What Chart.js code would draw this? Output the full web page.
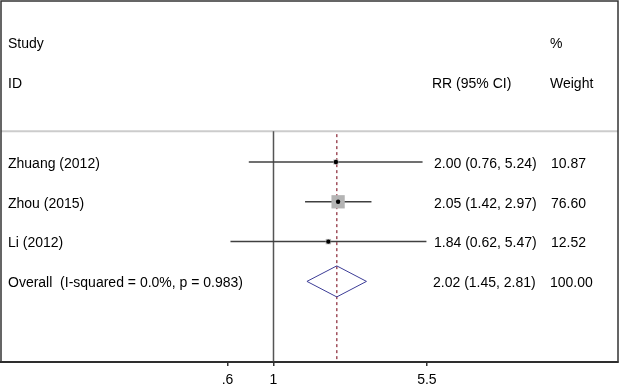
<!DOCTYPE html>
<html>
<head>
<meta charset="utf-8">
<script src="https://cdn.jsdelivr.net/npm/chart.js@4.4.0/dist/chart.umd.min.js"></script>
<style>
body { margin: 0; background: #fff; }
</style>
</head>
<body>
<canvas id="forest" width="620" height="387"></canvas>
<script>
// forest plot data
const studies = ['Zhuang (2012)', 'Zhou (2015)', 'Li (2012)'];
const rr = [2.00, 2.05, 1.84];
const lower = [0.76, 1.42, 0.62];
const upper = [5.24, 2.97, 5.47];
const weights = [10.87, 76.60, 12.52];

const overallLabel = 'Overall  (I-squared = 0.0%, p = 0.983)';
const overallRR = 2.02;
const overallLower = 1.45;
const overallUpper = 2.81;
const overallWeight = 100.00;

const xTicks = [0.6, 1, 5.5];
const xTickLabels = ['.6', '1', '5.5'];

// rows: headers at -3 / -2, studies 0..n-1, overall at n
const overallRow = studies.length;
const sepRow = -0.77;
const yMin = -4.045, yMax = 5.025;
const xMin = 0.04843, xMax = 45.96;

const FONT = '"Liberation Sans", Arial, sans-serif';

function ciText(est, lo, hi) {
    return est.toFixed(2) + ' (' + lo.toFixed(2) + ', ' + hi.toFixed(2) + ')';
}

const textPlugin = {
    id: 'forestText',
    afterDraw(chart) {
        const ctx = chart.ctx;
        const y = chart.scales.y;
        const area = chart.chartArea;
        ctx.save();
        ctx.font = '14px ' + FONT;
        ctx.fillStyle = '#000';
        ctx.textBaseline = 'middle';
        // +2px: canvas 'middle' sits a little high compared to the reference
        const put = (t, x, row) => ctx.fillText(t, x, y.getPixelForValue(row) + 2);

        put('Study', 8, -3);
        put('ID', 8, -2);
        put('RR (95% CI)', 432, -2);
        put('%', 550, -3);
        put('Weight', 550, -2);

        studies.forEach((s, i) => {
            put(s, 8, i);
            put(ciText(rr[i], lower[i], upper[i]), 434, i);
            put(weights[i].toFixed(2), 551, i);
        });
        put(overallLabel, 8, overallRow);
        put(ciText(overallRR, overallLower, overallUpper), 433, overallRow);
        put(overallWeight.toFixed(2), 550, overallRow);

        // frame round the plot
        ctx.strokeStyle = '#333';
        ctx.lineWidth = 1.5;
        ctx.strokeRect(area.left, area.top, area.right - area.left, area.bottom - area.top);
        ctx.restore();
    }
};

const lineSet = (data, color, width, dash) => ({
    data: data,
    showLine: true,
    borderColor: color,
    borderWidth: width,
    borderDash: dash || [],
    pointRadius: 0,
    fill: false
});

const diamondH = 0.39;
const datasets = [
    // point estimates
    {
        data: studies.map((s, i) => ({ x: rr[i], y: i })),
        pointStyle: 'circle',
        pointRadius: 2.2,
        backgroundColor: '#000',
        borderWidth: 0
    },
    // weight boxes
    {
        data: studies.map((s, i) => ({ x: rr[i], y: i })),
        pointStyle: 'rect',
        pointRadius: studies.map((s, i) => 1.075 * Math.sqrt(weights[i])),
        backgroundColor: '#b4b4b4',
        borderWidth: 0
    },
    // confidence intervals
    ...studies.map((s, i) => lineSet([{ x: lower[i], y: i }, { x: upper[i], y: i }], '#404040', 1.5)),
    // overall diamond
    lineSet([
        { x: overallLower, y: overallRow },
        { x: overallRR, y: overallRow - diamondH },
        { x: overallUpper, y: overallRow },
        { x: overallRR, y: overallRow + diamondH },
        { x: overallLower, y: overallRow }
    ], '#3c3c96', 1),
    // dashed overall line
    lineSet([{ x: overallRR, y: sepRow + 0.07 }, { x: overallRR, y: yMax }], '#a0505c', 1.5, [3, 3]),
    // null line
    lineSet([{ x: 1, y: sepRow }, { x: 1, y: yMax }], '#555', 1.5),
    // header separator
    lineSet([{ x: xMin, y: sepRow }, { x: xMax, y: sepRow }], '#cccccc', 2)
];

new Chart(document.getElementById('forest'), {
    type: 'scatter',
    data: { datasets: datasets },
    options: {
        responsive: false,
        animation: false,
        layout: { autoPadding: false, padding: { left: 1, top: 1, right: 2, bottom: 0 } },
        plugins: { legend: { display: false }, tooltip: { enabled: false } },
        scales: {
            x: {
                type: 'logarithmic',
                min: xMin,
                max: xMax,
                bounds: 'data',
                afterBuildTicks: s => { s.ticks = xTicks.map(v => ({ value: v })); },
                afterFit: s => { s.height = 25; },
                ticks: {
                    autoSkip: false,
                    maxRotation: 0,
                    padding: 6,
                    color: '#000',
                    font: { family: FONT, size: 14 },
                    callback: (v, i) => xTickLabels[i]
                },
                grid: { drawOnChartArea: false, tickLength: 4, color: '#333', lineWidth: 1.5 },
                border: { color: '#222', width: 2 }
            },
            y: {
                type: 'linear',
                reverse: true,
                min: yMin,
                max: yMax,
                display: false
            }
        }
    },
    plugins: [textPlugin]
});
</script>
</body>
</html>
